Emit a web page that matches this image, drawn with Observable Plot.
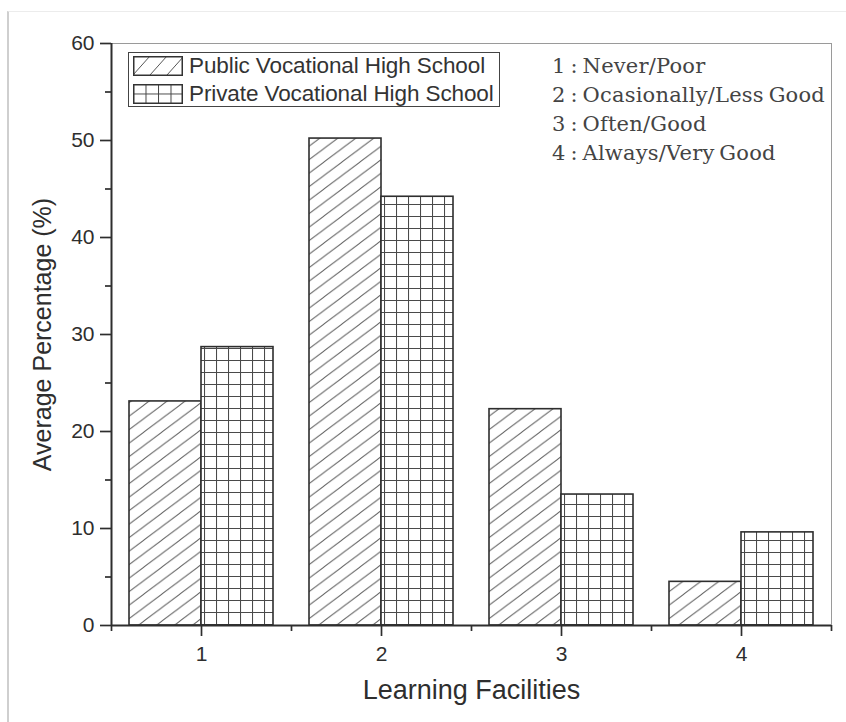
<!DOCTYPE html>
<html>
<head>
<meta charset="utf-8">
<script src="https://cdn.jsdelivr.net/npm/d3@7"></script>
<script src="https://cdn.jsdelivr.net/npm/@observablehq/plot@0.6"></script>
<style>
  body { margin: 0; background: #fff; }
  #wrap { position: relative; width: 846px; height: 722px; overflow: hidden; font-family: "Liberation Sans", Arial, sans-serif; }
  #edge { position: absolute; left: 7px; top: 11px; right: -2px; bottom: -2px; border-left: 2px solid #cfcfcf; border-top: 1px solid #ececec; pointer-events: none; }
  #legend { position: absolute; left: 128px; top: 52px; width: 372px; height: 55px; border: 1px solid #444; background: #fff; box-sizing: border-box; }
  .row { position: absolute; left: 4px; height: 20px; display: flex; align-items: center; }
  .row svg { display: block; }
  .row span { margin-left: 6px; font-size: 22.5px; color: #333; white-space: nowrap; letter-spacing: -0.1px; }
  #notes { position: absolute; left: 552px; top: 52px; font-family: "DejaVu Serif", serif; font-size: 21px; letter-spacing: 0.2px; word-spacing: -2px; color: #444; line-height: 29px; white-space: nowrap; }
</style>
</head>
<body>
<svg width="0" height="0" style="position:absolute">
  <defs>
    <pattern id="diag" patternUnits="userSpaceOnUse" width="18" height="13.5">
      <path d="M0,13.5 L18,0 M-4.5,3.375 L4.5,-3.375 M13.5,16.875 L22.5,10.125" stroke="#666" stroke-width="1" fill="none"/>
    </pattern>
    <pattern id="grid" patternUnits="userSpaceOnUse" width="12" height="12">
      <rect width="12" height="12" fill="#fff"/>
      <path d="M0,0.5 H12 M0.5,0 V12" stroke="#4a4a4a" stroke-width="1.1" fill="none"/>
    </pattern>
    <pattern id="diagL" patternUnits="userSpaceOnUse" width="17" height="19">
      <path d="M0,19 L17,0 M-4,4.5 L4,-4.5 M13,23.5 L21,14.5" stroke="#555" stroke-width="1" fill="none"/>
    </pattern>
    <pattern id="gridL" patternUnits="userSpaceOnUse" width="12.5" height="9.5">
      <path d="M0,0.5 H12.5 M0.5,0 V9.5" stroke="#444" stroke-width="1" fill="none"/>
    </pattern>
  </defs>
</svg>
<div id="wrap">
  <div id="chart"></div>
  <div id="edge"></div>
  <div id="legend"></div>
  <div id="notes"></div>
</div>
<script>
// ---- data ----
const groups = [1, 2, 3, 4];
const publicValues = [23.1, 50.2, 22.3, 4.5];
const privateValues = [28.7, 44.2, 13.5, 9.6];
const seriesNames = ["Public Vocational High School", "Private Vocational High School"];
const yTicks = [0, 10, 20, 30, 40, 50, 60];
const yMinorTicks = [5, 15, 25, 35, 45, 55];
const xTicks = [1, 2, 3, 4];
const xMinorTicks = [0.5, 1.5, 2.5, 3.5, 4.5];
const notes = ["1 : Never/Poor", "2 : Ocasionally/Less Good", "3 : Often/Good", "4 : Always/Very Good"];
const xTitle = "Learning Facilities";
const yTitle = "Average Percentage (%)";

const barWidth = 0.4;
const rows = [];
groups.forEach((g, i) => {
  rows.push({group: g, series: seriesNames[0], value: publicValues[i], x1: g - barWidth, x2: g});
  rows.push({group: g, series: seriesNames[1], value: privateValues[i], x1: g, x2: g + barWidth});
});

const ink = "#2e2e2e";
const chart = Plot.plot({
  width: 846,
  height: 722,
  marginLeft: 111,
  marginRight: 15,
  marginTop: 43,
  marginBottom: 97,
  style: {fontFamily: "'Liberation Sans', Arial, sans-serif", fontSize: "21px", background: "transparent", color: ink},
  x: {domain: [0.5, 4.5]},
  y: {domain: [0, 60]},
  color: {domain: seriesNames, range: ["url(#diag)", "url(#grid)"]},
  marks: [
    Plot.frame({stroke: "#9a9a9a", strokeWidth: 1}),
    Plot.rectY(rows, {x1: "x1", x2: "x2", y1: 0, y2: "value", fill: "series", stroke: ink, strokeWidth: 1.6}),
    Plot.axisY({ticks: yTicks, tickSize: 11, tickPadding: 6, fontSize: 21, stroke: ink, strokeWidth: 1.7, fill: ink, label: null, tickFormat: d => d}),
    Plot.axisY({ticks: yMinorTicks, tickSize: 6, text: null, stroke: ink, strokeWidth: 1.7, label: null}),
    Plot.axisX({ticks: xTicks, tickSize: 11, tickPadding: 10, fontSize: 21, stroke: ink, strokeWidth: 1.7, fill: ink, label: null, tickFormat: d => d}),
    Plot.axisX({ticks: xMinorTicks, tickSize: 6, text: null, stroke: ink, strokeWidth: 1.7, label: null}),
    Plot.ruleX([0.5], {stroke: ink, strokeWidth: 2}),
    Plot.ruleY([0], {stroke: ink, strokeWidth: 2}),
    Plot.text([xTitle], {text: d => d, frameAnchor: "bottom", textAnchor: "middle", dy: 73, fontSize: 27, fill: ink}),
    Plot.text([yTitle], {text: d => d, frameAnchor: "left", textAnchor: "middle", rotate: -90, dx: -69, fontSize: 25, fill: ink})
  ]
});
document.getElementById("chart").appendChild(chart);

// legend
const legend = document.getElementById("legend");
const swatchFills = ["url(#diagL)", "url(#gridL)"];
seriesNames.forEach((name, i) => {
  const row = document.createElement("div");
  row.className = "row";
  row.style.top = (3 + i * 28) + "px";
  row.innerHTML = `<svg width="50" height="20"><rect x="0.75" y="0.75" width="48.5" height="18.5" fill="${swatchFills[i]}" stroke="#333" stroke-width="1.5"/></svg><span>${name}</span>`;
  legend.appendChild(row);
});

// notes
document.getElementById("notes").innerHTML = notes.map(n => `<div>${n}</div>`).join("");
</script>
</body>
</html>
